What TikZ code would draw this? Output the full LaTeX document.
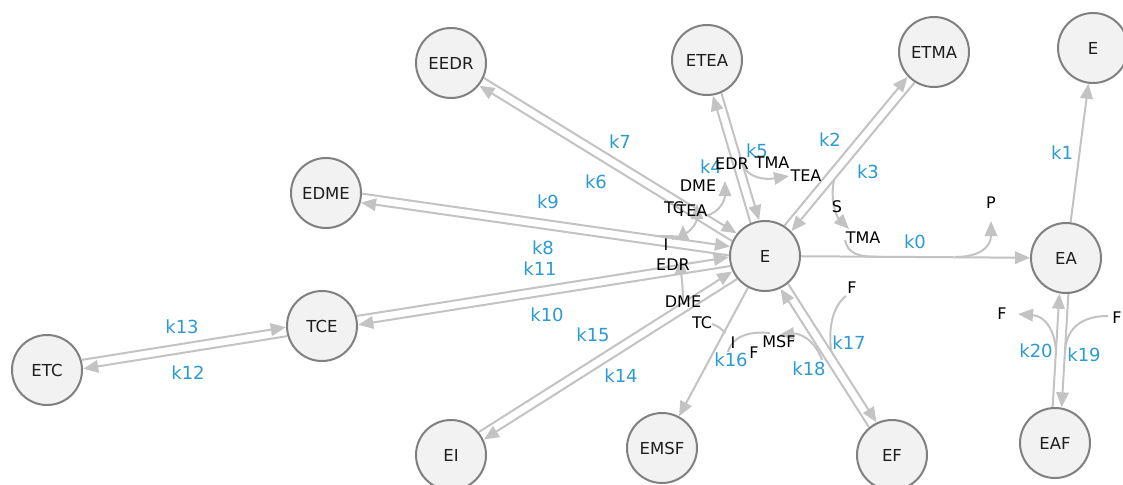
\documentclass[tikz,border=0pt]{standalone}
\usepackage{fontspec}
\setmainfont{DejaVu Sans}
\usetikzlibrary{arrows.meta,calc}
\definecolor{edgegray}{RGB}{195,195,195}
\definecolor{nodestroke}{RGB}{128,128,128}
\definecolor{nodefill}{RGB}{242,242,242}
\definecolor{kblue}{RGB}{45,155,210}
\definecolor{txtdark}{RGB}{30,30,30}
\newcommand\rxnpair[3]{\draw[nodeedge] ($(#1)!#3!90:(#2)$) -- ($(#2)!#3!-90:(#1)$);}
\begin{document}
\begin{tikzpicture}[x=1pt,y=-1pt,
  species/.style={circle,draw=nodestroke,fill=nodefill,line width=2pt,minimum size=70pt,inner sep=0pt,font=\fontsize{16.5}{19}\selectfont,text=txtdark},
  klab/.style={font=\fontsize{18}{21}\selectfont,text=kblue,inner sep=0pt},
  slab/.style={font=\fontsize{16}{19}\selectfont,text=black,inner sep=0pt},
  edge/.style={draw=edgegray,line width=2pt},
  tip/.style={-{Triangle[length=15pt,width=12.5pt]}},
  nodeedge/.style={edge,tip,shorten <=36pt,shorten >=36pt},
]
\useasboundingbox (0,0) rectangle (1123,484);
\fill[white] (0,0) rectangle (1123,484);

% species node positions (coordinates only; drawn later so they sit on top)
\path
  (451,63) coordinate (eedr)
  (707,60) coordinate (etea)
  (934,52) coordinate (etma)
  (1093,48) coordinate (etr)
  (326,193) coordinate (edme)
  (765,256) coordinate (e)
  (1066,258) coordinate (ea)
  (322,326) coordinate (tce)
  (47,370) coordinate (etc)
  (451,455) coordinate (ei)
  (662,448) coordinate (emsf)
  (892,455) coordinate (ef)
  (1055,443) coordinate (eaf);

% reversible pairs
\rxnpair{e}{eedr}{4.5pt}   % k6
\rxnpair{eedr}{e}{4.5pt}   % k7
\rxnpair{e}{etea}{4.5pt}   % k4
\rxnpair{etea}{e}{4.5pt}   % k5
\rxnpair{e}{etma}{4.5pt}   % k2
\rxnpair{etma}{e}{4.5pt}   % k3
\rxnpair{e}{edme}{4.5pt}   % k8
\rxnpair{edme}{e}{4.5pt}   % k9
\rxnpair{e}{tce}{4.5pt}    % k10
\rxnpair{tce}{e}{4.5pt}    % k11
\rxnpair{etc}{tce}{4.5pt}  % k13
\rxnpair{tce}{etc}{4.5pt}  % k12
\rxnpair{e}{ei}{4.5pt}     % k14
\rxnpair{ei}{e}{4.5pt}     % k15
\rxnpair{e}{ef}{4.5pt}     % k17
\rxnpair{ef}{e}{4.5pt}     % k18
\rxnpair{ea}{eaf}{4.5pt}   % k19
\rxnpair{eaf}{ea}{4.5pt}   % k20
% single reactions
\draw[nodeedge] (e) -- (emsf);  % k16
\draw[nodeedge] (e) -- (ea);    % k0
\draw[nodeedge] (ea) -- (etr);  % k1

% side arcs: products (with arrow)
\draw[edge,tip] (706,216) .. controls (720,212) and (725,200) .. (725,181);
\draw[edge,tip] (672,239) .. controls (690,236) and (697,222) .. (697,204);
\draw[edge,tip] (655,236) .. controls (674,236) and (683,236) .. (683,225);
\draw[edge,tip] (683,302) .. controls (683,285) and (681,272) .. (681,259);
\draw[edge,tip] (743,165) .. controls (748,178) and (765,180) .. (789,176);
\draw[edge,tip] (834,180) .. controls (830,200) and (836,216) .. (849,229);
\draw[edge,tip] (955,257) .. controls (978,257) and (991,248) .. (991,221);
\draw[edge,tip] (822,360) .. controls (815,340) and (800,333) .. (779,335);
\draw[edge,tip] (1056,352) .. controls (1055,330) and (1045,316) .. (1018,314);
% side arcs: reactants
\draw[edge] (845,240) .. controls (848,254) and (858,257) .. (882,257);
\draw[edge] (846,296) .. controls (834,305) and (828,325) .. (831,350);
\draw[edge] (1108,316) .. controls (1082,316) and (1066,328) .. (1065,352);
\draw[edge] (712,324) .. controls (718,326) and (722,329) .. (725,333);
\draw[edge] (728,352) .. controls (732,336) and (750,331) .. (770,333);

% species nodes
\node[species] (needr) at (eedr) {EEDR};
\node[species] (netea) at (etea) {ETEA};
\node[species] (netma) at (etma) {ETMA};
\node[species] (netr) at (etr) {E};
\node[species] (nedme) at (edme) {EDME};
\node[species] (ne) at (e) {E};
\node[species] (nea) at (ea) {EA};
\node[species] (ntce) at (tce) {TCE};
\node[species] (netc) at (etc) {ETC};
\node[species] (nei) at (ei) {EI};
\node[species] (nemsf) at (emsf) {EMSF};
\node[species] (nef) at (ef) {EF};
\node[species] (neaf) at (eaf) {EAF};

% rate labels
\node[klab] (lk0) at (915,242) {k0};
\node[klab] (lk1) at (1062,153) {k1};
\node[klab] (lk2) at (830,140) {k2};
\node[klab] (lk3) at (868,172) {k3};
\node[klab] (lk4) at (711,167) {k4};
\node[klab] (lk5) at (757,151) {k5};
\node[klab] (lk6) at (596,182) {k6};
\node[klab] (lk7) at (620,142) {k7};
\node[klab] (lk8) at (543,248) {k8};
\node[klab] (lk9) at (548,202) {k9};
\node[klab] (lk10) at (547,315) {k10};
\node[klab] (lk11) at (540,269) {k11};
\node[klab] (lk12) at (188,373) {k12};
\node[klab] (lk13) at (182,327) {k13};
\node[klab] (lk14) at (621,376) {k14};
\node[klab] (lk15) at (593,335) {k15};
\node[klab] (lk16) at (731,360) {k16};
\node[klab] (lk17) at (849,343) {k17};
\node[klab] (lk18) at (809,369) {k18};
\node[klab] (lk19) at (1084,355) {k19};
\node[klab] (lk20) at (1036,351) {k20};

% small species labels
\node[slab] (sEDRa) at (732,164) {EDR};
\node[slab] (sTMAa) at (772,163) {TMA};
\node[slab] (sTEAa) at (806,176) {TEA};
\node[slab] (sDMEa) at (698,186) {DME};
\node[slab] (sTCa) at (674,208) {TC};
\node[slab] (sTEAb) at (692,211) {TEA};
\node[slab] (sS) at (837,207) {S};
\node[slab] (sTMAb) at (863,238) {TMA};
\node[slab] (sP) at (991,203) {P};
\node[slab] (sIa) at (666,245) {I};
\node[slab] (sEDRb) at (673,265) {EDR};
\node[slab] (sDMEb) at (683,302) {DME};
\node[slab] (sTCb) at (702,323) {TC};
\node[slab] (sIb) at (733,343) {I};
\node[slab] (sFa) at (754,353) {F};
\node[slab] (sMSF) at (779,342) {MSF};
\node[slab] (sFb) at (852,288) {F};
\node[slab] (sFc) at (1002,314) {F};
\node[slab] (sFd) at (1117,318) {F};
\end{tikzpicture}
\end{document}
